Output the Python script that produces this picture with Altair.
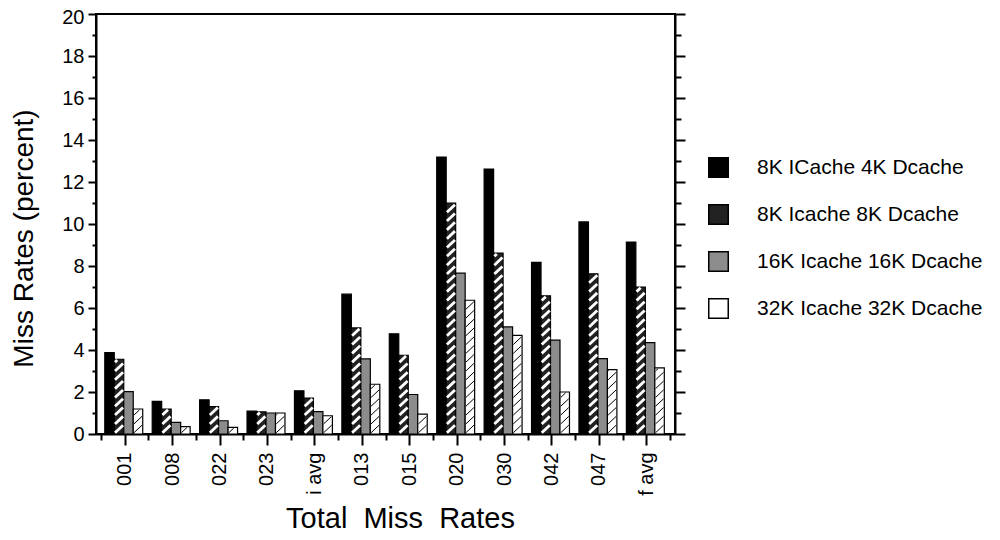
import json
import altair as alt
import pandas as pd

# ---------------- data ----------------
categories = ["001", "008", "022", "023", "i avg", "013", "015",
              "020", "030", "042", "047", "f avg"]
series = ["8K ICache 4K Dcache", "8K Icache 8K Dcache",
          "16K Icache 16K Dcache", "32K Icache 32K Dcache"]
icache8_dcache4 = [3.88, 1.55, 1.63, 1.09, 2.06, 6.66, 4.77, 13.19, 12.62, 8.17, 10.10, 9.14]
icache8_dcache8 = [3.56, 1.19, 1.30, 1.06, 1.71, 5.05, 3.75, 10.99, 8.61, 6.58, 7.63, 7.00]
icache16_dcache16 = [2.02, 0.55, 0.63, 1.00, 1.07, 3.58, 1.88, 7.66, 5.10, 4.47, 3.59, 4.35]
icache32_dcache32 = [1.19, 0.35, 0.32, 1.00, 0.87, 2.37, 0.95, 6.37, 4.70, 2.00, 3.07, 3.15]
y_tick_values = list(range(0, 21))
x_tick_values = [i / 2 for i in range(0, 25)]

all_series = [icache8_dcache4, icache8_dcache8, icache16_dcache16, icache32_dcache32]
rows = []
for ci, cat in enumerate(categories):
    for si, name in enumerate(series):
        rows.append({"cat": cat, "ci": ci, "series": name, "si": si,
                     "value": all_series[si][ci]})
df = pd.DataFrame(rows)

# ---------------- styling ----------------
FONT = "Liberation Sans"
TOP = 6        # plot top inside the svg (page y = TOP + 8)
W, H = 579, 426 - TOP
BAR = 0.2      # bar width in category units
START = 0.08   # offset of first bar inside a category
D = 0.36       # rise of a hatch line across a bar (value units)
P = 0.42       # vertical spacing of hatch lines (value units)
M = 0.015      # horizontal inset of hatch lines
NB = "\u00a0"

xscale = alt.Scale(domain=[0, 12], nice=False, zero=False)
yscale = alt.Scale(domain=[0, 20], nice=False)

cats_js = json.dumps(categories)

x_axis = alt.Axis(
    values=x_tick_values,
    labelExpr=f"datum.value % 1 == 0 ? '' : {cats_js}[floor(datum.value)]",
    tickSize={"condition": {"test": "datum.value % 1 == 0", "value": 6}, "value": 11},
    labelAngle=270, labelAlign="right", labelBaseline="middle", labelPadding=7,
    labelFontSize=20, labelFont=FONT, labelColor="black",
    labelOverlap=False, labelFlush=False, labelBound=False,
    domainColor="black", domainWidth=2, tickColor="black", tickWidth=2,
    grid=False,
    title=f"Total{NB} Miss{NB} Rates", titleFont=FONT, titleFontSize=29,
    titleFontWeight="normal", titleColor="black",
    titleX=304, titleY=93, titleAlign="center", titleBaseline="alphabetic",
)

y_axis_left = alt.Axis(
    values=y_tick_values,
    labelExpr="datum.value % 2 == 0 ? datum.label : ''",
    labelOffset={"condition": {"test": "datum.value == 20", "value": 3}, "value": 0},
    tickSize={"condition": {"test": "datum.value % 2 == 1", "value": 4}, "value": 8},
    labelPadding=4, labelFontSize=20, labelFont=FONT, labelColor="black",
    labelOverlap=False, labelFlush=False, labelBound=False,
    domainColor="black", domainWidth=2, tickColor="black", tickWidth=2,
    grid=False,
    title="Miss  Rates  (percent)", titleFont=FONT, titleFontSize=28,
    titleFontWeight="normal", titleColor="black",
    titleX=-72, titleY=238 - 8 - TOP, titleAngle=270, titleAlign="center",
    titleBaseline="middle",
)

y_axis_right = alt.Axis(
    orient="right", values=y_tick_values, labels=False,
    tickSize={"condition": {"test": "datum.value % 2 == 1", "value": 6}, "value": 10},
    domainColor="black", domainWidth=2, tickColor="black", tickWidth=2,
    grid=False, title=None,
)

legend = alt.Legend(
    orient="none", legendX=612, legendY=157 - 8 - TOP, title=None,
    symbolType="square", symbolSize=380, symbolStrokeColor="black",
    symbolStrokeWidth=1.5, labelFont=FONT, labelFontSize=21,
    labelColor="black", labelOffset=28, rowPadding=20, labelLimit=0,
)

bars = alt.Chart(df).transform_calculate(
    x0=f"datum.ci + {START} + datum.si * {BAR}",
    x1=f"datum.ci + {START} + (datum.si + 1) * {BAR}",
).mark_bar(stroke="black", strokeWidth=1.2, orient="vertical").encode(
    x=alt.X("x0:Q", scale=xscale, axis=x_axis),
    x2="x1:Q",
    y=alt.Y("value:Q", scale=yscale, axis=y_axis_left),
    y2=alt.datum(0),
    fill=alt.Fill("series:N",
                  scale=alt.Scale(domain=series,
                                  range=["black", "#222222", "#8c8c8c", "white"]),
                  legend=legend),
)

hatch = alt.Chart(df).transform_filter(
    "datum.si == 1 || datum.si == 3"
).transform_calculate(
    x0=f"datum.ci + {START} + datum.si * {BAR}",
    x1=f"datum.ci + {START} + (datum.si + 1) * {BAR}",
    xa=f"datum.x0 + {M}",
    xb=f"datum.x1 - {M}",
    seq=f"sequence(-{D}, datum.value, {P})",
).transform_flatten(["seq"]).transform_calculate(
    ys="max(datum.seq, 0)",
    ye=f"min(datum.seq + {D}, datum.value - 0.04)",
).transform_filter("datum.ye > datum.ys").transform_calculate(
    xs=f"datum.xa + (datum.ys - datum.seq) / {D} * (datum.xb - datum.xa)",
    xe=f"datum.xa + (datum.ye - datum.seq) / {D} * (datum.xb - datum.xa)",
).mark_rule(strokeCap="butt").encode(
    x=alt.X("xs:Q", scale=xscale, axis=x_axis),
    x2="xe:Q",
    y=alt.Y("ys:Q", scale=yscale, axis=y_axis_right),
    y2="ye:Q",
    stroke=alt.condition("datum.si == 1", alt.value("white"), alt.value("black")),
    strokeWidth=alt.condition("datum.si == 1", alt.value(2.8), alt.value(1.0)),
)

chart = alt.layer(bars, hatch).resolve_axis(y="independent").properties(
    width=W, height=H,
    padding={"left": 88, "top": TOP, "right": 984 - 88 - W, "bottom": 524 - TOP - H},
    autosize=alt.AutoSizeParams(type="none"),
    background="white",
).configure_view(stroke="black", strokeWidth=2)

chart.save("out.html", embed_options={"renderer": "svg", "actions": False})
